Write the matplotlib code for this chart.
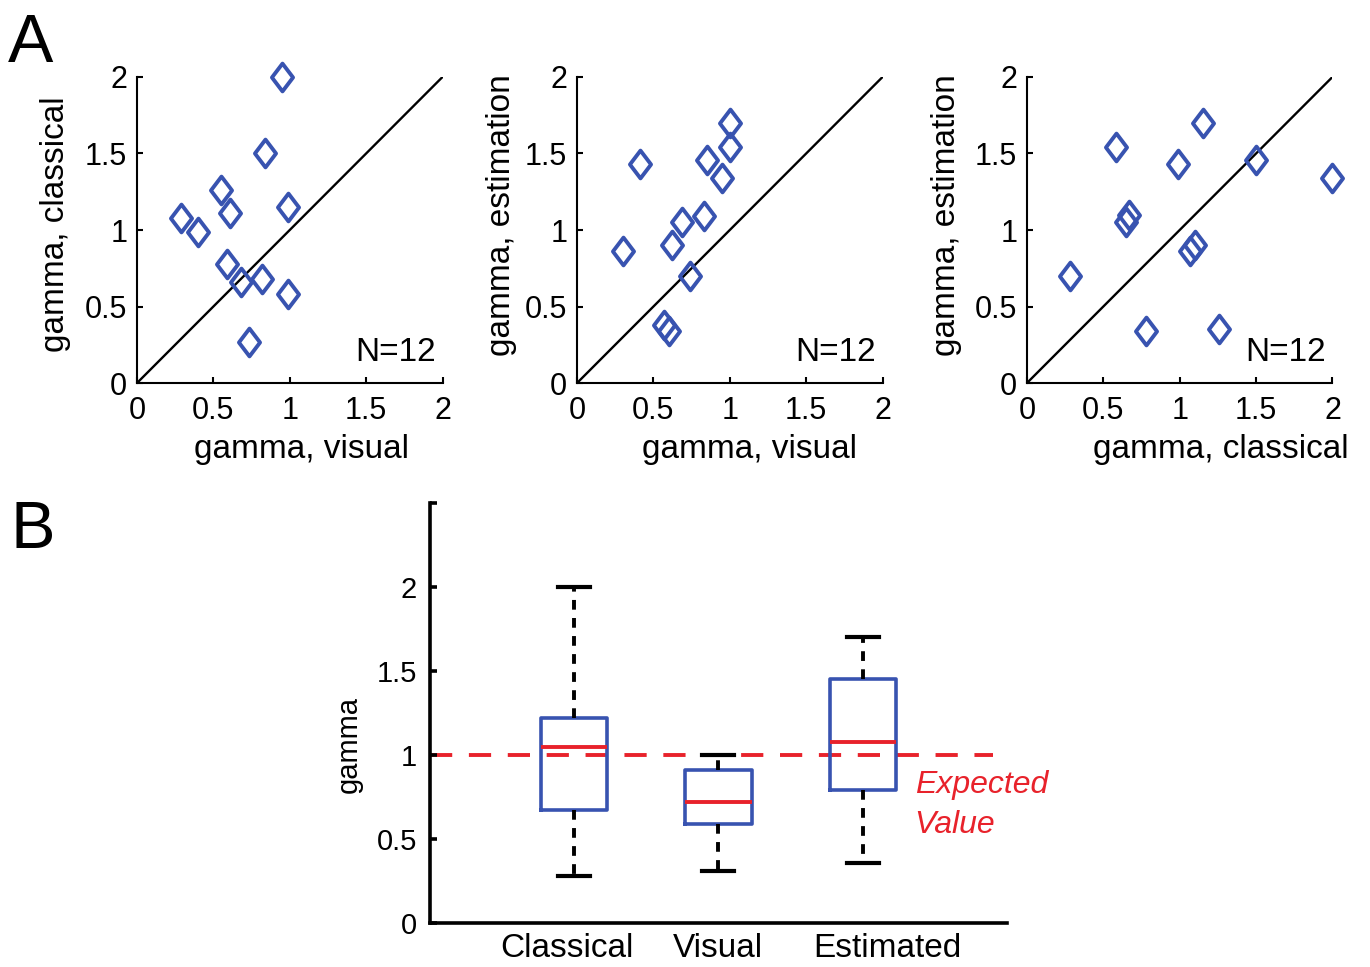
import matplotlib
matplotlib.use('Agg')
import matplotlib.pyplot as plt
from matplotlib.path import Path

plt.rcParams['font.family'] = ['Liberation Sans', 'DejaVu Sans']
plt.rcParams['lines.scale_dashes'] = False

# ---- Panel A data ----
vis1 = [0.95, 0.84, 0.55, 0.61, 0.99, 0.29, 0.40, 0.59, 0.68, 0.82, 0.99, 0.73]
cla1 = [2.00, 1.50, 1.26, 1.11, 1.15, 1.08, 0.99, 0.78, 0.66, 0.68, 0.58, 0.27]
vis2 = [1.00, 1.00, 0.85, 0.95, 0.41, 0.83, 0.69, 0.62, 0.30, 0.74, 0.57, 0.60]
est2 = [1.70, 1.54, 1.46, 1.34, 1.43, 1.09, 1.05, 0.90, 0.86, 0.70, 0.38, 0.34]
cla3 = [1.15, 0.58, 0.99, 1.50, 2.00, 0.67, 0.65, 1.10, 1.07, 0.28, 0.78, 1.26]
est3 = [1.70, 1.54, 1.43, 1.46, 1.34, 1.10, 1.05, 0.90, 0.86, 0.70, 0.34, 0.35]
ticks_a = [0, 0.5, 1, 1.5, 2]
tick_labels_a = ['0', '0.5', '1', '1.5', '2']

# ---- Panel B data ----
categories = ['Classical', 'Visual', 'Estimated']
medians = [1.05, 0.72, 1.08]
q1 = [0.67, 0.59, 0.79]
q3 = [1.22, 0.91, 1.45]
whislo = [0.28, 0.31, 0.36]
whishi = [2.00, 1.00, 1.70]
expected = 1.0
ticks_b = [0, 0.5, 1, 1.5, 2, 2.5]
tick_labels_b = ['0', '0.5', '1', '1.5', '2', '']

BLUE = '#3853B0'
RED = '#E8222B'

fig = plt.figure(figsize=(13.7, 9.67), dpi=100)

diamond = Path([(0, 1), (0.76, 0), (0, -1), (-0.76, 0), (0, 1)],
               [Path.MOVETO, Path.LINETO, Path.LINETO, Path.LINETO, Path.CLOSEPOLY])

# left, x, y, xlabel, ylabel, xlabel x-pos, ylabel (x, y)
panels = [
    (0.1000, vis1, cla1, 'gamma, visual', 'gamma, classical', 0.54, (-0.215, 0.52)),
    (0.4212, vis2, est2, 'gamma, visual', 'gamma, estimation', 0.564, (-0.198, 0.55)),
    (0.7496, cla3, est3, 'gamma, classical', 'gamma, estimation', 0.634, (-0.212, 0.55)),
]
for left, xs, ys, xl, yl, xlab_x, ylab_xy in panels:
    ax = fig.add_axes([left, 0.6039, 0.2230, 0.3165])
    ax.plot([0, 2], [0, 2], color='black', lw=1.7, zorder=1)
    ax.plot(xs, ys, linestyle='none', marker=diamond, markersize=20,
            markerfacecolor='none', markeredgecolor=BLUE, markeredgewidth=2.8,
            zorder=3, clip_on=False)
    ax.set_xlim(0, 2)
    ax.set_ylim(0, 2)
    ax.set_xticks(ticks_a)
    ax.set_xticklabels(tick_labels_a)
    ax.set_yticks(ticks_a)
    ax.set_yticklabels(tick_labels_a)
    for s in ['top', 'right']:
        ax.spines[s].set_visible(False)
    for s in ['left', 'bottom']:
        ax.spines[s].set_linewidth(1.5)
    ax.tick_params(direction='in', length=4, width=1.5, labelsize=22, pad=7)
    ax.tick_params(axis='x', pad=9)
    ax.set_xlabel(xl, fontsize=24)
    ax.set_ylabel(yl, fontsize=24)
    ax.xaxis.set_label_coords(xlab_x, -0.165)
    ax.yaxis.set_label_coords(*ylab_xy)
    ax.text(1.955, 0.145, 'N=12', fontsize=24, ha='right', va='baseline')
    ax.patch.set_alpha(0)

fig.text(0.006, 0.936, 'A', fontsize=49, ha='left', va='baseline')
fig.text(0.008, 0.4333, 'B', fontsize=48, ha='left', va='baseline')

# ---- Panel B ----
axb = fig.add_axes([0.3136, 0.0455, 0.4215, 0.4343])
stats = []
for i, c in enumerate(categories):
    stats.append(dict(label=c, med=medians[i], q1=q1[i], q3=q3[i],
                      whislo=whislo[i], whishi=whishi[i], fliers=[]))
axb.plot([0, 3.9], [expected, expected], color=RED, lw=2.8, dashes=(16, 12), zorder=1)
axb.bxp(stats, positions=[1, 2, 3], widths=0.46, capwidths=0.22, showfliers=False,
        boxprops=dict(color=BLUE, lw=2.6),
        medianprops=dict(color=RED, lw=2.8),
        whiskerprops=dict(color='black', lw=2.8, dashes=(7, 6)),
        capprops=dict(color='black', lw=3))
axb.set_xlim(0, 4)
axb.set_ylim(0, 2.5)
axb.set_yticks(ticks_b)
axb.set_yticklabels(tick_labels_b)
axb.set_xticks([0.952, 2.0, 3.172])
axb.set_xticklabels(categories, fontsize=24)
for s in ['top', 'right']:
    axb.spines[s].set_visible(False)
for s in ['left', 'bottom']:
    axb.spines[s].set_linewidth(2.6)
axb.tick_params(axis='y', direction='in', length=5, width=2.6, labelsize=21, pad=9)
axb.tick_params(axis='x', length=0, pad=7)
axb.set_ylabel('gamma', fontsize=21)
axb.yaxis.set_label_coords(-0.115, 0.426)
axb.text(3.36, 0.774, 'Expected', color=RED, fontsize=23, style='italic',
         ha='left', va='baseline')
axb.text(3.36, 0.536, 'Value', color=RED, fontsize=23, style='italic',
         ha='left', va='baseline')

fig.savefig('out.png', dpi=100)
